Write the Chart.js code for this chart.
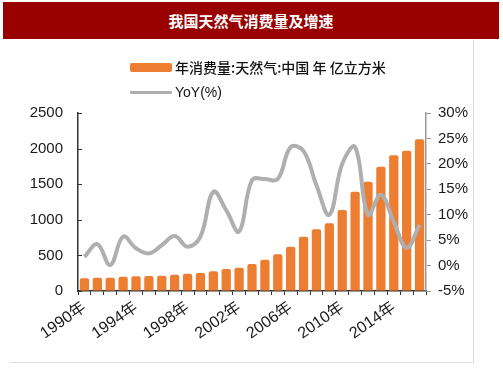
<!DOCTYPE html>
<html><head><meta charset="utf-8">
<script src="https://cdn.jsdelivr.net/npm/chart.js@4"></script>
<style>
body{margin:0;width:503px;height:378px;background:#fff;position:relative;overflow:hidden;font-family:"Liberation Sans",Arial,sans-serif}
#title{position:absolute;left:3px;top:2px;width:496px;height:37px;background:#990000;color:#fff;font:bold 15px "Noto Sans CJK SC",sans-serif;text-align:center;line-height:37px;z-index:2}
#frame{position:absolute;left:11px;top:39px;width:463px;height:324px;border-right:1px solid #ddd;border-bottom:1px solid #ddd;box-sizing:border-box}
#chartbox{position:absolute;left:0;top:0;width:503px;height:378px}
.lg{position:absolute;left:130px;font:14px "Liberation Sans","Noto Sans CJK SC",sans-serif;color:#111;white-space:nowrap;z-index:2}
.sw{display:inline-block;vertical-align:middle;margin-right:3px}
</style></head>
<body>
<div id="frame"></div>
<div id="title">我国天然气消费量及增速</div>
<div id="chartbox"><canvas id="c" width="503" height="378"></canvas></div>
<div class="lg" id="lg1" style="top:57px"><span class="sw" style="width:42px;height:9px;background:#ED7D31;border-radius:2px"></span><span style="vertical-align:middle;font-family:'Noto Sans CJK SC',sans-serif;font-weight:500">年消费量:天然气:中国 年 亿立方米</span></div>
<div class="lg" id="lg2" style="top:83px"><span class="sw" style="width:42px;height:3px;background:#AFAFAF;border-radius:1px"></span><span style="vertical-align:middle">YoY(%)</span></div>
<script>
const years = ["1990年","1991年","1992年","1993年","1994年","1995年","1996年","1997年","1998年","1999年","2000年","2001年","2002年","2003年","2004年","2005年","2006年","2007年","2008年","2009年","2010年","2011年","2012年","2013年","2014年","2015年","2016年"];
const consumption = [178,187,187,201,206,211,215,229,243,253,277,309,327,379,440,515,622,763,866,951,1138,1395,1535,1746,1906,1971,2131];
const yoy = [1.7,4.2,0.1,5.7,3.4,2.4,4.0,5.8,3.7,5.7,14.5,10.9,6.7,16.8,17.0,17.0,23.3,22.5,15.8,10.0,20.0,23.3,10.0,13.9,8.6,3.5,8.0];
const leftTicks = [0,500,1000,1500,2000,2500];
const rightTicks = [-5,0,5,10,15,20,25,30];

const inwardTicks = {
  id:'inwardTicks',
  afterDraw(chart){
    const ctx = chart.ctx, y = chart.scales.y;
    ctx.save();
    ctx.strokeStyle = '#333'; ctx.lineWidth = 1;
    leftTicks.forEach(v=>{
      const py = Math.round(y.getPixelForValue(v))+0.5;
      ctx.beginPath(); ctx.moveTo(y.right, py); ctx.lineTo(y.right+4, py); ctx.stroke();
    });
    ctx.restore();
  }
};

const famly = '"Liberation Sans", Arial, "Noto Sans CJK SC", sans-serif';
const yFont = {family:famly, size:15};
const xFont = {family:famly, size:16};
new Chart(document.getElementById('c'), {
  data:{
    labels: years,
    datasets:[
      {type:'line', label:'YoY(%)', data:yoy, yAxisID:'y1', borderColor:'#AFAFAF', borderWidth:4, pointRadius:0, tension:0.4, order:1},
      {type:'bar', label:'年消费量:天然气:中国 年 亿立方米', data:consumption, yAxisID:'y', backgroundColor:'#ED7D31', barPercentage:0.72, categoryPercentage:1, borderRadius:2, order:2}
    ]
  },
  options:{
    responsive:false, animation:false, devicePixelRatio:1,
    layout:{padding:{top:113,right:17,bottom:0,left:0}},
    plugins:{legend:{display:false}, title:{display:false}, tooltip:{enabled:false}},
    scales:{
      x:{
        offset:true,
        grid:{display:true, drawOnChartArea:false, drawTicks:true, tickLength:4, color:'#333', offset:true},
        border:{color:'#333', width:1.5},
        ticks:{autoSkip:false, maxRotation:35, minRotation:35, font:xFont, color:'#1a1a1a', padding:3,
          callback:(v,i)=> i%4===0 ? years[i] : ''},
        afterFit:s=>{s.height=87;}
      },
      y:{
        position:'left', min:0, max:2500,
        afterBuildTicks:s=>{s.ticks = leftTicks.map(v=>({value:v}));},
        grid:{drawOnChartArea:false, drawTicks:false},
        border:{color:'#333', width:1.5},
        ticks:{font:yFont, color:'#1a1a1a', padding:15, callback:v=>String(v)},
        afterFit:s=>{s.width=78;}
      },
      y1:{
        position:'right', min:-5, max:30,
        afterBuildTicks:s=>{s.ticks = rightTicks.map(v=>({value:v}));},
        grid:{drawOnChartArea:false, drawTicks:true, tickLength:5, color:'#999'},
        border:{color:'#999', width:1.5},
        ticks:{font:yFont, color:'#1a1a1a', padding:7, callback:v=>v+'%'},
        afterFit:s=>{s.width=60;}
      }
    }
  },
  plugins:[inwardTicks]
});
</script>
</body></html>
